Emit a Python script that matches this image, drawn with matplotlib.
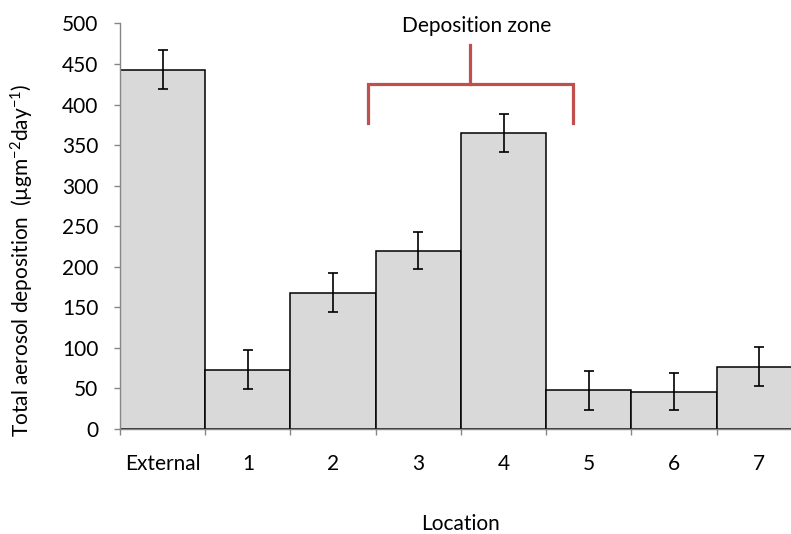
import numpy as np
import matplotlib
matplotlib.use("Agg")
import matplotlib.pyplot as plt

plt.rcParams['font.family'] = ['Lato', 'DejaVu Sans']
plt.rcParams['mathtext.fontset'] = 'custom'
plt.rcParams['mathtext.rm'] = 'Lato'
plt.rcParams['mathtext.it'] = 'Lato'
plt.rcParams['mathtext.default'] = 'regular'

# deposition per location
locations = ['External', '1', '2', '3', '4', '5', '6', '7']
deposition = [443, 73, 168, 220, 365, 48, 46, 77]
errors = [24, 24, 24, 23, 24, 24, 23, 24]

# bracket marking the deposition zone (data x units / y values)
zone_left, zone_right, zone_mid = 2.41, 4.82, 3.61
zone_bottom, zone_top, zone_peak = 377, 426, 473

fig = plt.figure(figsize=(7.91, 5.34), dpi=100)
ax = fig.add_axes([0.1517, 0.1966, 0.862, 0.7594])

x = np.arange(len(locations))
ax.bar(x, deposition, width=1.0, color='#d9d9d9', edgecolor='black', linewidth=1.1, zorder=2)
ax.errorbar(x, deposition, yerr=errors, fmt='none', ecolor='black', elinewidth=1.2,
            capsize=3.8, capthick=1.2, zorder=3)

red = '#c0504d'
ax.plot([zone_left, zone_left, zone_right, zone_right],
        [zone_bottom, zone_top, zone_top, zone_bottom], color=red, lw=2.3,
        solid_joinstyle='miter', clip_on=False)
ax.plot([zone_mid, zone_mid], [zone_top, zone_peak], color=red, lw=2.3, clip_on=False)
ax.text(zone_mid + 0.07, 497, 'Deposition zone', ha='center', va='center', fontsize=15)

ax.set_xlim(-0.5, len(locations) - 0.5)
ax.set_ylim(0, 500)
ax.set_yticks(np.arange(0, 501, 50))
ax.set_xticks(x)
ax.set_xticklabels(locations)
ax.set_xticks(np.arange(-0.5, len(locations), 1), minor=True)

for s in ['top', 'right']:
    ax.spines[s].set_visible(False)
for s in ['left', 'bottom']:
    ax.spines[s].set_color('#868686')
    ax.spines[s].set_linewidth(1.0)

ax.tick_params(axis='y', length=4.5, width=1.0, color='#868686', pad=11, labelsize=15)
ax.tick_params(axis='x', which='major', length=0, pad=18, labelsize=15)
ax.tick_params(axis='x', which='minor', length=4.5, width=1.0, color='#868686')

ax.set_xlabel('Location', fontsize=15, labelpad=29)
ax.set_ylabel('Total aerosol deposition  (µgm$^{-2}$day$^{-1}$)', fontsize=15,
              labelpad=19, y=0.417)

fig.savefig('out.png', dpi=100)
